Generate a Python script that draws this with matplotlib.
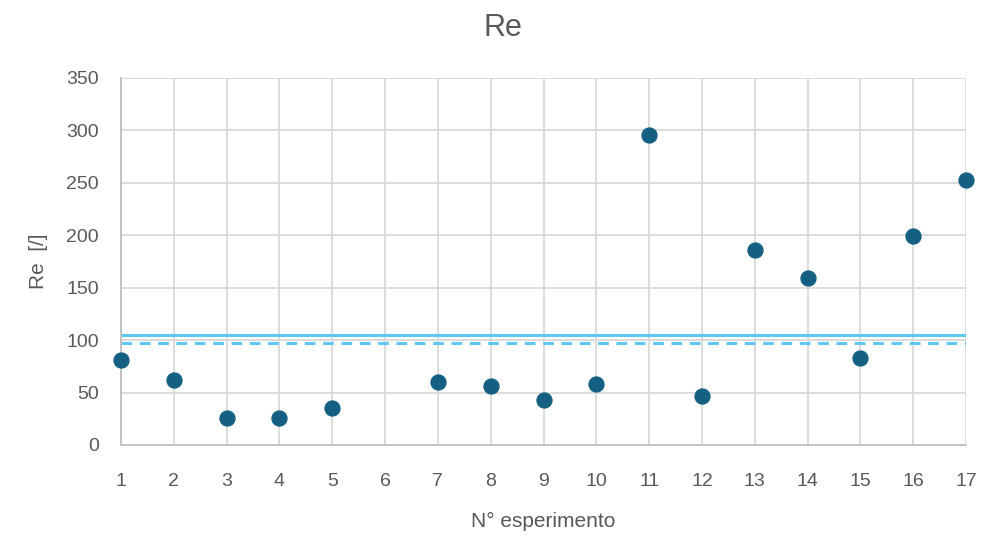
import matplotlib
matplotlib.use("Agg")
import matplotlib.pyplot as plt

# N° esperimento vs Re
esperimento = [1, 2, 3, 4, 5, 7, 8, 9, 10, 11, 12, 13, 14, 15, 16, 17]
re_values = [81, 62, 26, 26, 35, 60, 56, 43, 58, 296, 47, 186, 159, 83, 199, 253]
re_line_solid = 105
re_line_dashed = 97

x_ticks = list(range(1, 18))
y_ticks = list(range(0, 351, 50))

plt.rcParams['font.family'] = ['Liberation Sans', 'DejaVu Sans']

fig = plt.figure(figsize=(10.05, 5.39), dpi=100)
ax = fig.add_axes([0.1204, 0.1744, 0.8408, 0.6809])

text_col = '#595959'
grid_col = '#d9d9d9'

ax.axhline(re_line_solid, color='#5ec8f2', lw=2.2, zorder=2)
ax.axhline(re_line_dashed, color='#5ec8f2', lw=2.2, ls=(0, (3.5, 2.5)), zorder=2)
ax.scatter(esperimento, re_values, s=115, color='#156082', zorder=3, clip_on=False)

ax.set_xlim(1, 17)
ax.set_ylim(0, 350)
ax.set_xticks(x_ticks)
ax.set_yticks(y_ticks)
ax.grid(True, color=grid_col, lw=1.3)
ax.set_axisbelow(True)

for side in ['top', 'right']:
    ax.spines[side].set_visible(False)
for side in ['left', 'bottom']:
    ax.spines[side].set_color('#bfbfbf')
    ax.spines[side].set_linewidth(1.3)

ax.tick_params(length=0, labelsize=14, colors=text_col)
ax.tick_params(axis='x', pad=20)
ax.tick_params(axis='y', pad=16)
ax.set_xlabel('N° esperimento', fontsize=15, color=text_col, labelpad=16)
ax.set_ylabel('Re  [/]', fontsize=15, color=text_col, labelpad=13)
fig.suptitle('Re', fontsize=22, color=text_col, y=0.975)

fig.savefig('out.png', dpi=100)
